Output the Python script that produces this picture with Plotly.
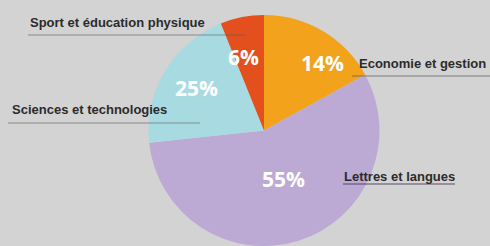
import plotly.graph_objects as go

# Data (slice shares as drawn, and the printed percentage labels)
categories = ["Economie et gestion", "Lettres et langues", "Sciences et technologies", "Sport et éducation physique"]
shares = [17, 56.3, 20.6, 6.1]
pct_labels = ["14%", "55%", "25%", "6%"]

colors = ["#f2a21b", "#bcaad4", "#a8dbe1", "#e4501d"]
W, H = 490, 246

def px(x):
    return x / W

def py(y):
    return 1 - y / H

fig = go.Figure(go.Pie(
    labels=categories,
    values=shares,
    sort=False,
    direction="clockwise",
    rotation=0,
    marker=dict(colors=colors, line=dict(width=0)),
    textinfo="none",
    hoverinfo="label+percent",
    domain=dict(x=[px(264 - 116), px(264 + 116)], y=[0, 231 / H]),
    showlegend=False,
))

# percentage labels positions (pixel centers) for each category
pct_pos = [(322, 63), (283, 179), (196, 88), (243, 57)]
annotations = []
for lab, (x, y) in zip(pct_labels, pct_pos):
    annotations.append(dict(
        x=px(x), y=py(y), xref="paper", yref="paper", text=lab, showarrow=False,
        xanchor="center", yanchor="middle",
        font=dict(family="Open Sans", size=21, color="white", weight="bold"),
    ))

# outer category labels with underline
outer = [
    # text, x_left, y_center, line x0, x1, line y, line color
    (categories[0], 357, 63, 352, 490, 76, "rgba(90,90,90,0.7)"),
    (categories[1], 342, 176, 343, 455, 184, "rgba(60,40,80,0.8)"),
    (categories[2], 10, 109, 8, 200, 123, "rgba(90,90,90,0.6)"),
    (categories[3], 28, 22, 28, 245, 35, "rgba(90,90,90,0.6)"),
]
shapes = []
for text, x, y, x0, x1, ly, lc in outer:
    annotations.append(dict(
        x=px(x), y=py(y), xref="paper", yref="paper", text=text, showarrow=False,
        xanchor="left", yanchor="middle",
        font=dict(family="Liberation Sans", size=13, color="#2b2b2b", weight="bold"),
    ))
    shapes.append(dict(type="line", xref="paper", yref="paper",
                       x0=px(x0), x1=px(x1), y0=py(ly), y1=py(ly),
                       line=dict(color=lc, width=1)))

fig.update_layout(
    width=W, height=H,
    margin=dict(l=0, r=0, t=0, b=0),
    paper_bgcolor="#d3d3d3",
    plot_bgcolor="#d3d3d3",
    annotations=annotations,
    shapes=shapes,
)

fig.write_html(
    "out.html",
    config={"displayModeBar": False},
    post_script="document.body.style.margin='0';document.body.style.overflow='hidden';document.body.style.background='#d3d3d3';",
)
